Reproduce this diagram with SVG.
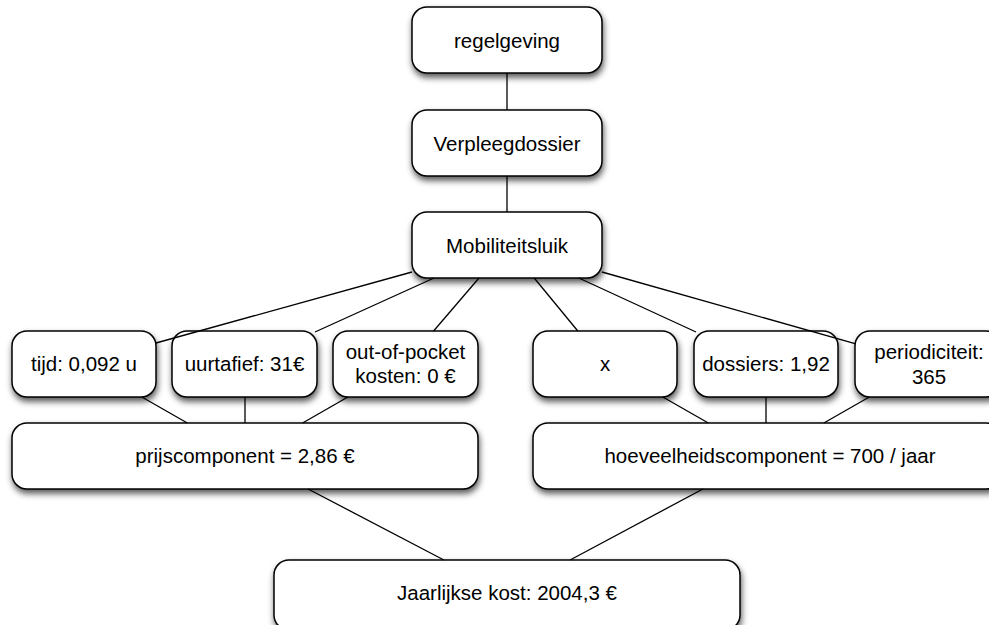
<svg xmlns="http://www.w3.org/2000/svg" width="989" height="625" viewBox="0 0 989 625">
<defs>
<filter id="sh" x="-10%" y="-20%" width="120%" height="160%">
<feDropShadow dx="1" dy="4" stdDeviation="3" flood-color="#000" flood-opacity="0.65"/>
</filter>
<style>
.box{fill:#fff;stroke:#000;stroke-width:1.5;filter:url(#sh)}
.t{font-family:"Liberation Sans",Arial,Helvetica,sans-serif;font-size:20.5px;fill:#000;text-anchor:middle}
.c line{stroke:#000;stroke-width:1.3}
</style>
</defs>
<rect width="989" height="625" fill="#fff"/>
<g id="regelgeving"><rect class="box" x="412" y="7" width="190" height="66" rx="15"/><text class="t" x="507" y="48">regelgeving</text></g>
<g id="verpleegdossier"><rect class="box" x="412" y="110" width="190" height="66" rx="15"/><text class="t" x="507" y="151">Verpleegdossier</text></g>
<g id="mobiliteitsluik"><rect class="box" x="412" y="212" width="190" height="66" rx="15"/><text class="t" x="507" y="253">Mobiliteitsluik</text></g>
<g id="tijd"><rect class="box" x="12" y="331" width="144" height="66" rx="15"/><text class="t" x="84" y="371">tijd: 0,092 u</text></g>
<g id="uurtafief"><rect class="box" x="172" y="331" width="145" height="66" rx="15"/><text class="t" x="244.5" y="371">uurtafief: 31€</text></g>
<g id="outofpocket"><rect class="box" x="333" y="331" width="145" height="66" rx="15"/><text class="t" x="405.5" y="359">out-of-pocket</text><text class="t" x="405.5" y="383">kosten: 0 €</text></g>
<g id="x"><rect class="box" x="533" y="331" width="144" height="66" rx="15"/><text class="t" x="605" y="371">x</text></g>
<g id="dossiers"><rect class="box" x="694" y="331" width="144" height="66" rx="15"/><text class="t" x="766" y="371">dossiers: 1,92</text></g>
<g id="periodiciteit"><rect class="box" x="855" y="331" width="146" height="66" rx="15"/><text class="t" x="929" y="359">periodiciteit:</text><text class="t" x="929" y="384">365</text></g>
<g id="prijscomponent"><rect class="box" x="12" y="423" width="466" height="66" rx="15"/><text class="t" x="245" y="463">prijscomponent = 2,86 €</text></g>
<g id="hoeveelheidscomponent"><rect class="box" x="533" y="423" width="468" height="66" rx="15"/><text class="t" x="770" y="463">hoeveelheidscomponent = 700 / jaar</text></g>
<g id="jaarlijkse"><rect class="box" x="274" y="560" width="466" height="70" rx="15"/><text class="t" x="507" y="600">Jaarlijkse kost: 2004,3 €</text></g>
<g id="connectors" class="c">
<line x1="507" y1="73" x2="507" y2="110"/>
<line x1="507" y1="176" x2="507" y2="212"/>
<line x1="412" y1="272" x2="156" y2="343"/>
<line x1="434" y1="278" x2="315" y2="332"/>
<line x1="479" y1="278" x2="433.6" y2="331"/>
<line x1="534.2" y1="278" x2="577.8" y2="331"/>
<line x1="578.8" y1="278" x2="696" y2="332"/>
<line x1="602" y1="272" x2="855" y2="343.6"/>
<line x1="141.8" y1="397" x2="187.3" y2="423"/>
<line x1="245" y1="397" x2="245" y2="423"/>
<line x1="347.9" y1="397" x2="302.6" y2="423"/>
<line x1="662.8" y1="397" x2="708.3" y2="423"/>
<line x1="766" y1="397" x2="766" y2="423"/>
<line x1="869.3" y1="397" x2="823.8" y2="423"/>
<line x1="308.1" y1="489" x2="443.9" y2="560"/>
<line x1="702.9" y1="489" x2="570.1" y2="560"/>
</g>
</svg>
